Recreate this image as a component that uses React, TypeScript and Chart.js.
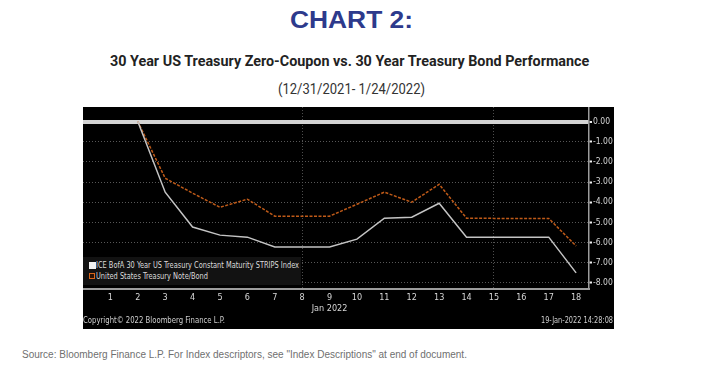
import React, { useEffect, useRef } from 'react';
import { Chart, registerables } from 'chart.js';

Chart.register(...registerables);

// ---- data ----
const days = [2, 3, 4, 5, 6, 7, 8, 9, 10, 11, 12, 13, 14, 15, 16, 17, 18];
const stripsIndex = [0, -3.5, -5.23, -5.63, -5.73, -6.22, -6.22, -6.22, -5.83, -4.79, -4.74, -4.05, -5.73, -5.73, -5.73, -5.73, -7.5];
const treasuryBond = [0, -2.81, -3.55, -4.25, -3.85, -4.69, -4.69, -4.69, -4.1, -3.5, -4.0, -3.11, -4.79, -4.8, -4.8, -4.8, -6.17];
const xTickLabels = ['1', '2', '3', '4', '5', '6', '7', '8', '9', '10', '11', '12', '13', '14', '15', '16', '17', '18'];
const monthLabel = 'Jan 2022';
const monthTick = 9;
const weekGridDays = [8, 15];
const seriesNames = ['ICE BofA 30 Year US Treasury Constant Maturity STRIPS Index', 'United States Treasury Note/Bond'];

const NARROW = '"DejaVu Sans Condensed", "Liberation Sans", Arial, sans-serif';

let measureCtx: CanvasRenderingContext2D | null = null;
function measure(text: string, font: string): number {
  if (!measureCtx) measureCtx = document.createElement('canvas').getContext('2d');
  if (!measureCtx) return 0;
  measureCtx.font = font;
  return measureCtx.measureText(text).width;
}

type FitProps = {
  text: string;
  left: number;
  top: number;
  width: number;
  family: string;
  size: number;
  weight?: number;
  color: string;
  lineHeight: number;
};

function FitText({ text, left, top, width, family, size, weight = 400, color, lineHeight }: FitProps) {
  const w = measure(text, `${weight} ${size}px ${family}`) || width;
  const k = width / w;
  return (
    <div
      style={{
        position: 'absolute',
        left,
        top,
        margin: 0,
        whiteSpace: 'nowrap',
        fontFamily: family,
        fontSize: size,
        fontWeight: weight,
        lineHeight: `${lineHeight}px`,
        color,
        transformOrigin: 'left top',
        transform: `scaleX(${k})`,
      }}
    >
      {text}
    </div>
  );
}

export default function App() {
  const ref = useRef<HTMLCanvasElement | null>(null);

  useEffect(() => {
    if (!ref.current) return;
    const chart = new Chart(ref.current, {
      type: 'line',
      data: {
        datasets: [
          {
            label: seriesNames[0],
            data: days.map((d, i) => ({ x: d, y: stripsIndex[i] })),
            borderColor: '#c4c4c4',
            borderWidth: 1.5,
            pointRadius: 0,
            tension: 0,
          },
          {
            label: seriesNames[1],
            data: days.map((d, i) => ({ x: d, y: treasuryBond[i] })),
            borderColor: '#bf5a18',
            borderWidth: 1.5,
            borderDash: [3, 1.5],
            pointRadius: 0,
            tension: 0,
          },
        ],
      },
      options: {
        animation: false,
        responsive: false,
        devicePixelRatio: 1,
        layout: { padding: 0 },
        plugins: { legend: { display: false }, tooltip: { enabled: false }, title: { display: false } },
        scales: {
          x: {
            type: 'linear',
            min: 0,
            max: 18.47,
            afterFit: (s: any) => {
              s.height = 40;
              s.paddingLeft = 0;
              s.paddingRight = 0;
            },
            ticks: {
              stepSize: 1,
              includeBounds: false,
              autoSkip: false,
              maxRotation: 0,
              padding: 3,
              color: '#d6d6d6',
              font: { family: NARROW, size: 9 },
              callback: (v: any) => {
                const n = Number(v);
                if (n < 1 || n > 18) return '';
                const lbl = xTickLabels[n - 1];
                return n === monthTick ? [lbl, monthLabel] : lbl;
              },
            },
            grid: {
              drawTicks: false,
              color: (ctx: any) => (ctx.tick && weekGridDays.includes(ctx.tick.value) ? '#4d4d4d' : 'rgba(0,0,0,0)'),
              lineWidth: 1,
            },
            border: {
              display: true,
              color: '#9c9c9c',
              width: 2,
              dash: (ctx: any) => (ctx.tick ? [1, 2] : []),
            },
          },
          y: {
            type: 'linear',
            position: 'right',
            min: -8.3,
            max: 0.72,
            afterFit: (s: any) => {
              s.width = 25;
              s.paddingTop = 0;
              s.paddingBottom = 0;
            },
            ticks: {
              stepSize: 1,
              includeBounds: false,
              padding: 1,
              color: '#d6d6d6',
              font: { family: NARROW, size: 8.5 },
              callback: (v: any) => Number(v).toFixed(2),
            },
            grid: {
              drawTicks: true,
              tickLength: 3,
              tickColor: '#eeeeee',
              tickWidth: 2,
              color: (ctx: any) => (ctx.tick && ctx.tick.value === 0 ? '#d4d4d4' : '#575757'),
              lineWidth: (ctx: any) => (ctx.tick && ctx.tick.value === 0 ? 4 : 1),
            },
            border: {
              display: true,
              color: '#9c9c9c',
              width: 1.5,
              dash: (ctx: any) => (ctx.tick && ctx.tick.value !== 0 ? [1, 2] : []),
            },
          },
        },
      },
    });
    return () => chart.destroy();
  }, []);

  const abs = (l: number, t: number, extra: any = {}) => ({ position: 'absolute' as const, left: l, top: t, margin: 0, ...extra });
  const SANS = '"Liberation Sans", Arial, sans-serif';

  return (
    <div style={{ position: 'fixed', left: 0, top: 0, width: 703, height: 373, background: '#fff', overflow: 'hidden' }}>
      <FitText text="CHART 2:" left={290} top={7} width={123} family={SANS} size={23} weight={700} color="#2d3a8c" lineHeight={26} />
      <FitText
        text="30 Year US Treasury Zero-Coupon vs. 30 Year Treasury Bond Performance"
        left={110}
        top={52}
        width={480}
        family="Roboto, sans-serif"
        size={15}
        weight={700}
        color="#222"
        lineHeight={18}
      />
      <FitText text="(12/31/2021- 1/24/2022)" left={278} top={80} width={147} family="Roboto, sans-serif" size={15} color="#333" lineHeight={18} />

      <div style={abs(83, 107, { width: 531, height: 222, background: '#000' })}>
        <canvas ref={ref} width={531} height={222} style={{ display: 'block', width: 531, height: 222 }} />
      </div>

      {/* legend */}
      <div style={abs(83, 257, { width: 218, height: 28, background: '#121212' })} />
      <div style={abs(89, 262, { width: 7, height: 7, background: '#f2f2f2' })} />
      <FitText text={seriesNames[0]} left={96} top={260} width={203} family={NARROW} size={9} color="#dcdcdc" lineHeight={11} />
      <div style={abs(89, 273, { width: 4, height: 4, border: '1.5px solid #d8661c', background: '#2a1205' })} />
      <FitText text={seriesNames[1]} left={96} top={271} width={112} family={NARROW} size={9} color="#dcdcdc" lineHeight={11} />

      <FitText text="Copyright© 2022 Bloomberg Finance L.P." left={83} top={314} width={142} family={NARROW} size={9} color="#cfcfcf" lineHeight={12} />
      <FitText text="19-Jan-2022 14:28:08" left={541} top={314} width={72} family={NARROW} size={9} color="#cfcfcf" lineHeight={12} />

      <div style={abs(22, 349, { fontFamily: SANS, fontSize: 10, lineHeight: '12px', color: '#6f6f6f', whiteSpace: 'nowrap' })}>
        Source: Bloomberg Finance L.P. For Index descriptors, see "Index Descriptions" at end of document.
      </div>
    </div>
  );
}
